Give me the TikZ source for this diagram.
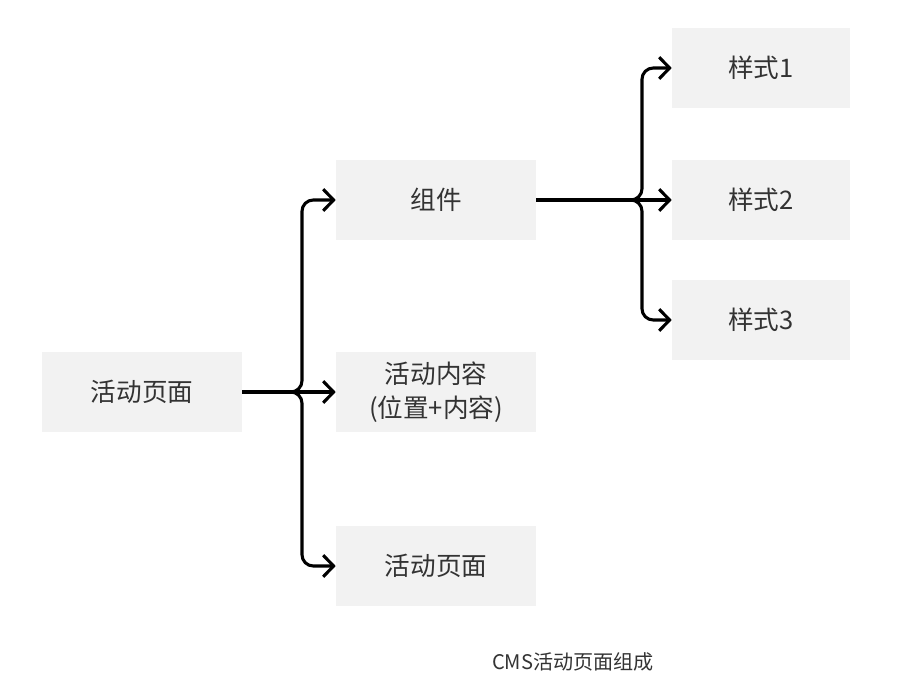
\documentclass[tikz,border=0pt]{standalone}
\usepackage{fontspec}
\setmainfont{Noto Sans CJK SC}
\usepackage{tikz}
\usetikzlibrary{arrows.meta,positioning}
\definecolor{boxgray}{HTML}{F2F2F2}
\definecolor{textgray}{HTML}{333333}

\begin{document}
\begin{tikzpicture}
%\draw[very thin, color = gray](0, 0) grid (22, 17);
\useasboundingbox (0, 0) rectangle (22.6, 17.45);
\tikzstyle{block} = [fill = boxgray, rectangle, text = textgray, align = center,
  minimum width = 5cm, minimum height = 2cm, font = \fontsize{18.2}{24.5}\selectfont];
\tikzstyle{small} = [block, minimum width = 4.45cm];
\tikzstyle{line} = [draw, line width = 2.2pt, rounded corners = 0.28cm,
  -{Straight Barb[length = 2.6mm, width = 5.4mm]}]
\node [block] at (3.55, 7.65) (page) {活动页面};
\node [block] at (10.9, 12.45) (comp) {组件};
\node [block] at (10.9, 7.65) (content) {活动内容\\(位置+内容)};
\node [block] at (10.9, 3.3) (subpage) {活动页面};
\node [small] at (19.025, 15.75) (styleone) {样式1};
\node [small] at (19.025, 12.45) (styletwo) {样式2};
\node [small] at (19.025, 9.45) (stylethree) {样式3};
\coordinate (jone) at (7.55, 7.65);
\coordinate (jtwo) at (16.05, 12.45);
\path [line] (page.east) -- (jone) |- (comp.west);
\path [line] (page.east) -- (content.west);
\path [line] (page.east) -- (jone) |- (subpage.west);
\path [line] (comp.east) -- (jtwo) |- (styleone.west);
\path [line] (comp.east) -- (styletwo.west);
\path [line] (comp.east) -- (jtwo) |- (stylethree.west);
\node at (14.325, 0.9) [text = textgray, font = \fontsize{14.3}{17}\selectfont] (caption) {CMS活动页面组成};
\end{tikzpicture}
\end{document}
